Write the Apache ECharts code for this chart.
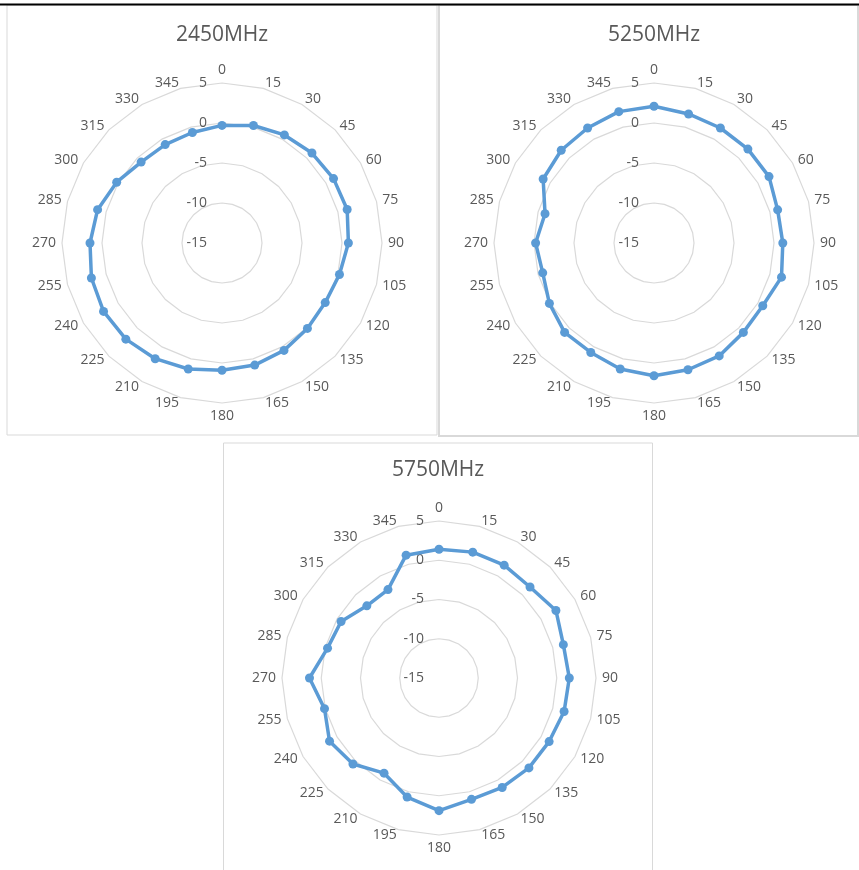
<!DOCTYPE html>
<html>
<head>
<meta charset="utf-8">
<script src="https://cdn.jsdelivr.net/npm/echarts@6/dist/echarts.min.js"></script>
<style>
  html, body { margin: 0; padding: 0; background: #ffffff; }
  #chart { width: 859px; height: 870px; }
</style>
</head>
<body>
<div id="chart"></div>
<script>
// ---- data ----
const angleLabels = ['0','15','30','45','60','75','90','105','120','135','150','165',
                     '180','195','210','225','240','255','270','285','300','315','330','345'];
const titles = ['2450MHz', '5250MHz', '5750MHz'];
const radialTicks = [-15, -10, -5, 0, 5];
const gain2450 = [-0.3, 0.2, 0.6, 0.9, 1.1, 1.2, 0.8, 0.2, -0.1, 0.1, 0.5, 0.8,
                  0.9, 1.3, 1.7, 2.0, 2.1, 1.9, 1.5, 1.1, 0.2, -0.7, -0.8, -0.7];
const gain5250 = [2.1, 1.7, 1.6, 1.6, 1.6, 1.0, 1.1, 1.5, 0.7, 0.8, 1.3, 1.4,
                  1.6, 1.3, 0.8, 0.8, 0.1, -0.6, -0.2, -0.9, 1.0, 1.4, 1.6, 2.0];
const gain5750 = [1.4, 1.6, 1.6, 1.4, 2.2, 1.4, 1.6, 1.5, 1.2, 1.2, 1.1, 1.0,
                  1.9, 0.7, -1.0, 0.5, 1.1, 0.1, 1.5, -0.3, -0.6, -2.0, -2.0, 1.2];

// ---- layout / style ----
const TXT = '#595959';
const GRID = '#d9d9d9';
const BLUE = '#5b9bd5';
const FONT = 'Open Sans';
const rMin = radialTicks[0], rMax = radialTicks[radialTicks.length - 1];
const rStep = radialTicks[1] - radialTicks[0];

// ECharts radar runs counter-clockwise; reorder so angles run clockwise from the top.
const order = [0];
for (let i = angleLabels.length - 1; i >= 1; i--) order.push(i);
const reorder = arr => order.map(i => arr[i]);

const panels = [
  { center: [222, 243], radius: 160, title: [222, 35], data: gain2450 },
  { center: [654, 243], radius: 160, title: [654, 35], data: gain5250 },
  { center: [439, 678], radius: 157, title: [438, 470], data: gain5750 }
];

const radars = panels.map(p => ({
  center: p.center,
  radius: p.radius,
  startAngle: 90,
  shape: 'polygon',
  splitNumber: (rMax - rMin) / rStep,
  nameGap: 6,
  axisName: { color: TXT, fontSize: 14, fontFamily: FONT },
  axisLine: { show: false },
  axisTick: { show: false },
  axisLabel: { show: false },
  splitArea: { show: false },
  splitLine: { lineStyle: { color: GRID, width: 1.2 } },
  indicator: order.map((i, k) => {
    const ind = { name: angleLabels[i], min: rMin, max: rMax };
    if (k === 0) {
      ind.axisLabel = { show: true, color: TXT, fontSize: 14, fontFamily: FONT, margin: 15 };
    }
    return ind;
  })
}));

const series = panels.map((p, idx) => ({
  type: 'radar',
  radarIndex: idx,
  symbol: 'circle',
  symbolSize: 9,
  lineStyle: { color: BLUE, width: 3.5 },
  itemStyle: { color: BLUE },
  data: [{ value: reorder(p.data), name: titles[idx] }],
  animation: false
}));

const titleGraphics = panels.map((p, idx) => ({
  type: 'text',
  x: p.title[0], y: p.title[1],
  style: { text: titles[idx], fill: TXT, font: '21px "' + FONT + '"', align: 'center', verticalAlign: 'middle' },
  z: 10
}));

const frameGraphics = [
  { type: 'rect', shape: { x: 7, y: 5, width: 430, height: 430 }, style: { fill: null, stroke: GRID, lineWidth: 1 } },
  { type: 'rect', shape: { x: 439, y: 5, width: 419, height: 431 }, style: { fill: null, stroke: GRID, lineWidth: 2 } },
  { type: 'rect', shape: { x: 223.5, y: 443, width: 429, height: 440 }, style: { fill: null, stroke: GRID, lineWidth: 1 } },
  { type: 'line', shape: { x1: 0, y1: 4.5, x2: 859, y2: 4.5 }, style: { stroke: '#000', lineWidth: 2 } }
];

const chart = echarts.init(document.getElementById('chart'), null, { renderer: 'canvas' });
chart.setOption({
  backgroundColor: '#ffffff',
  animation: false,
  textStyle: { fontFamily: FONT },
  radar: radars,
  series: series,
  graphic: { elements: frameGraphics.concat(titleGraphics) }
});
</script>
</body>
</html>
